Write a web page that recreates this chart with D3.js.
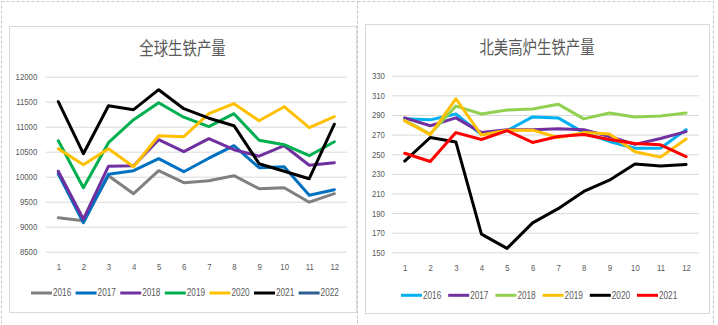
<!DOCTYPE html>
<html>
<head>
<meta charset="utf-8">
<script src="https://cdn.jsdelivr.net/npm/d3@7/dist/d3.min.js"></script>
<style>
  html, body { margin: 0; padding: 0; background: #fff; }
  svg { display: block; }
</style>
</head>
<body>
<div id="chart"></div>
<script>
// months on the x axis (shared by both panels)
var months = [1, 2, 3, 4, 5, 6, 7, 8, 9, 10, 11, 12];

// 全球生铁产量
var globalTicks = [8500, 9000, 9500, 10000, 10500, 11000, 11500, 12000];
var globalYears = ["2016", "2017", "2018", "2019", "2020", "2021", "2022"];
var global2016 = [9180, 9120, 10020, 9660, 10120, 9880, 9920, 10020, 9760, 9780, 9490, 9660];
var global2017 = [10060, 9080, 10050, 10120, 10360, 10100, 10370, 10620, 10180, 10200, 9630, 9740];
var global2018 = [10110, 9150, 10210, 10220, 10740, 10500, 10760, 10540, 10410, 10620, 10230, 10280];
var global2019 = [10720, 9780, 10680, 11140, 11480, 11190, 11000, 11260, 10730, 10640, 10420, 10700];
var global2020 = [10560, 10240, 10560, 10200, 10820, 10800, 11260, 11460, 11120, 11400, 10980, 11200];
var global2021 = [11500, 10460, 11420, 11340, 11740, 11360, 11170, 11020, 10260, 10110, 9960, 11050];
var global2022 = [];

// 北美高炉生铁产量
var naTicks = [150, 170, 190, 210, 230, 250, 270, 290, 310, 330];
var naYears = ["2016", "2017", "2018", "2019", "2020", "2021"];
var na2016 = [286, 285, 291, 270, 274, 288, 287, 272, 263, 256, 256, 275];
var na2017 = [287, 279, 287, 272, 275, 275, 276, 275, 268, 260, 266, 273];
var na2018 = [284.5, 270.5, 299, 291, 295, 296, 301, 286, 292, 288, 289, 292];
var na2019 = [284, 270, 306.5, 269.5, 274.5, 274.5, 267, 272, 270.5, 252.5, 247, 265.5];
var na2020 = [243, 267, 262.5, 168.5, 154, 180, 194.5, 212, 223.5, 240, 238, 239.5];
var na2021 = [251, 242.5, 272, 265, 274, 262, 268, 270, 265, 261, 259.5, 247.5];

var W = 718, H = 325;
var textColor = "#595959";
var gridColor = "#d9d9d9";
var narrow = "scale(0.82,1)";

var svg = d3.select("#chart").append("svg")
    .attr("width", W)
    .attr("height", H);

// dashed frames around the two pictures
svg.append("rect").attr("x", 1.5).attr("y", 1.5).attr("width", 356).attr("height", 330)
    .attr("fill", "none").attr("stroke", "#c8c8c8").attr("stroke-dasharray", "3,2");
svg.append("rect").attr("x", 357.5).attr("y", 1.5).attr("width", 356).attr("height", 330)
    .attr("fill", "none").attr("stroke", "#c8c8c8").attr("stroke-dasharray", "3,2");

function drawPanel(p) {
  var g = svg.append("g");

  g.append("rect")
      .attr("x", p.box[0] + 0.5).attr("y", p.box[1] + 0.5)
      .attr("width", p.box[2] - p.box[0]).attr("height", p.box[3] - p.box[1])
      .attr("fill", "#fff").attr("stroke", gridColor);

  g.append("text")
      .attr("transform", "translate(" + ((p.box[0] + p.box[2]) / 2) + "," + p.titleY + ") scale(0.8,1)")
      .attr("text-anchor", "middle")
      .attr("dominant-baseline", "central")
      .attr("font-family", "'Noto Sans CJK SC', sans-serif")
      .attr("font-size", "18px")
      .attr("fill", textColor)
      .text(p.title);

  var x = d3.scalePoint().domain(months).range([p.left, p.right]).padding(0.5);
  var y = d3.scaleLinear().domain(p.domain).range([p.bottom, p.top]);

  // y axis with full-width gridlines
  var ya = g.append("g")
      .attr("transform", "translate(" + p.left + ",0)")
      .call(d3.axisLeft(y)
        .tickValues(p.ticks)
        .tickFormat(d3.format("d"))
        .tickSize(-(p.right - p.left))
        .tickSizeOuter(0));
  ya.select(".domain").remove();
  ya.selectAll("line").attr("stroke", gridColor).attr("stroke-width", 1);
  ya.selectAll("text")
      .attr("x", 0)
      .attr("transform", "translate(" + (-p.labelGap) + ",0) " + narrow)
      .attr("font-family", "'Liberation Sans', Arial, sans-serif")
      .attr("font-size", "9.5px")
      .attr("fill", textColor);

  var xa = g.append("g")
      .attr("transform", "translate(0," + p.bottom + ")")
      .call(d3.axisBottom(x).tickSize(0));
  xa.select(".domain").remove();
  xa.selectAll("text")
      .attr("y", 0).attr("dy", "0.35em")
      .attr("transform", "translate(0," + p.xLabelOff + ") " + narrow)
      .attr("font-family", "'Liberation Sans', Arial, sans-serif")
      .attr("font-size", "9.5px")
      .attr("fill", textColor);

  var line = d3.line()
      .x(function(d, i) { return x(months[i]); })
      .y(function(d) { return y(d); });

  g.selectAll("path.series")
      .data(p.series)
      .enter()
      .append("path")
      .attr("class", "series")
      .attr("d", function(s) { return s.values.length ? line(s.values) : null; })
      .attr("fill", "none")
      .attr("stroke", function(s) { return s.color; })
      .attr("stroke-width", 3)
      .attr("stroke-linejoin", "round")
      .attr("stroke-linecap", "round");

  // legend
  var lg = g.selectAll("g.legend")
      .data(p.series)
      .enter()
      .append("g")
      .attr("class", "legend")
      .attr("transform", function(s, i) {
        return "translate(" + (p.legendX + i * p.legendStep) + "," + p.legendY + ")";
      });
  lg.append("line")
      .attr("x1", 0).attr("x2", 21)
      .attr("stroke", function(s) { return s.color; })
      .attr("stroke-width", 3);
  lg.append("text")
      .attr("transform", "translate(22,0) " + narrow)
      .attr("dominant-baseline", "central")
      .attr("font-family", "'Liberation Sans', Arial, sans-serif")
      .attr("font-size", "10px")
      .attr("fill", textColor)
      .text(function(s) { return s.name; });
}

var globalValues = [global2016, global2017, global2018, global2019, global2020, global2021, global2022];
var globalColors = ["#808080", "#0070c0", "#7030a0", "#00b050", "#ffc000", "#000000", "#2e5e94"];
var naValues = [na2016, na2017, na2018, na2019, na2020, na2021];
var naColors = ["#00b0f0", "#7030a0", "#92d050", "#ffc000", "#000000", "#ff0000"];

drawPanel({
  title: "全球生铁产量",
  box: [9, 26, 356, 312],
  titleY: 47,
  left: 45.75, right: 346.9, top: 76.7, bottom: 251.7,
  domain: [8500, 12000],
  ticks: globalTicks,
  labelGap: 8.5,
  xLabelOff: 15,
  legendX: 31, legendStep: 44.6, legendY: 293,
  series: globalYears.map(function(name, i) {
    return { name: name, values: globalValues[i], color: globalColors[i] };
  })
});

drawPanel({
  title: "北美高炉生铁产量",
  box: [365, 24, 709, 313],
  titleY: 46,
  left: 391.9, right: 698.9, top: 75.7, bottom: 252.3,
  domain: [150, 330],
  ticks: naTicks,
  labelGap: 7,
  xLabelOff: 15.7,
  legendX: 401, legendStep: 47.2, legendY: 295.3,
  series: naYears.map(function(name, i) {
    return { name: name, values: naValues[i], color: naColors[i] };
  })
});
</script>
</body>
</html>
